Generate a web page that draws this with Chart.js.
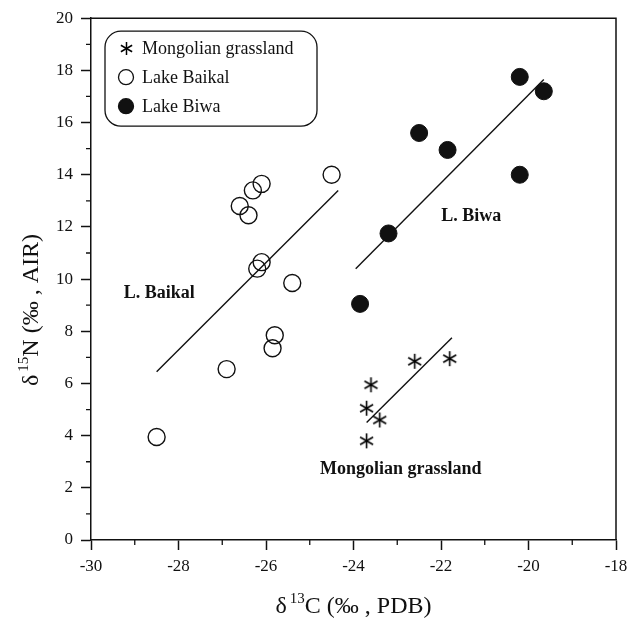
<!DOCTYPE html>
<html>
<head>
<meta charset="utf-8">
<script src="https://cdn.jsdelivr.net/npm/chart.js@4.4.1/dist/chart.umd.min.js"></script>
<style>
  html, body { margin: 0; padding: 0; background: #fff; }
  #wrap { width: 638px; height: 620px; }
</style>
</head>
<body>
<div id="wrap"><canvas id="isoChart" width="638" height="620"></canvas></div>
<script>
// valores (d13C, d15N)
const mongX = [-22.6, -21.8, -23.6, -23.7, -23.4, -23.7];
const mongY = [6.85, 6.95, 5.95, 5.05, 4.6, 3.8];

const baikalX = [-24.5, -26.1, -26.3, -26.6, -26.4, -26.1, -26.2, -25.4, -25.8, -25.85, -26.9, -28.5];
const baikalY = [14.0, 13.65, 13.4, 12.8, 12.45, 10.65, 10.4, 9.85, 7.85, 7.35, 6.55, 3.95];

const biwaX = [-20.2, -19.65, -22.5, -21.85, -20.2, -23.2, -23.85];
const biwaY = [17.75, 17.2, 15.6, 14.95, 14.0, 11.75, 9.05];

// retas de regressão (extremos)
const mongFitX = [-23.7, -21.75];
const mongFitY = [4.5, 7.75];
const baikalFitX = [-28.5, -24.35];
const baikalFitY = [6.45, 13.4];
const biwaFitX = [-23.95, -19.65];
const biwaFitY = [10.4, 17.65];

const seriesNames = ['Mongolian grassland', 'Lake Baikal', 'Lake Biwa'];
const groupLabels = ['L. Baikal', 'L. Biwa', 'Mongolian grassland'];
const groupLabelX = [-28.44, -21.31, -22.92];
const groupLabelY = [9.44, 12.4, 2.69];

const xMin = -30, xMax = -18, xStep = 2;
const yMin = 0, yMax = 20, yStep = 2;

const ink = '#111';
const serif = "'Liberation Serif', 'Times New Roman', serif";

function pts(xs, ys) {
    return xs.map((x, i) => ({ x: x, y: ys[i] }));
}

// asterisco de 6 pontas
function makeStar(r, lw) {
    const c = document.createElement('canvas');
    const s = 2 * Math.ceil(r) + 3; // tamanho ímpar -> centro no meio do pixel
    c.width = s; c.height = s;
    const g = c.getContext('2d');
    const m = s / 2;
    g.strokeStyle = '#000';
    g.lineWidth = lw;
    g.lineCap = 'butt';
    for (let k = 0; k < 3; k++) {
        const a = Math.PI / 2 + k * Math.PI / 3;
        g.beginPath();
        g.moveTo(m + r * Math.cos(a), m - r * Math.sin(a));
        g.lineTo(m - r * Math.cos(a), m + r * Math.sin(a));
        g.stroke();
    }
    return c;
}
const starBig = makeStar(7.5, 1.6);
const starSmall = makeStar(6.5, 1.5);

// moldura, ticks menores, títulos, rótulos e legenda
const extrasPlugin = {
    id: 'extras',
    afterDraw(chart) {
        const ctx = chart.ctx;
        const a = chart.chartArea;
        const xs = chart.scales.x, ys = chart.scales.y;
        ctx.save();
        ctx.strokeStyle = ink;
        ctx.lineWidth = 1.5;
        ctx.beginPath();
        ctx.moveTo(a.left, a.top);
        ctx.lineTo(a.right, a.top);
        ctx.lineTo(a.right, a.bottom);
        ctx.stroke();

        // ticks menores
        ctx.lineWidth = 1.3;
        ctx.beginPath();
        for (let v = xMin + xStep / 2; v < xMax; v += xStep) {
            const px = xs.getPixelForValue(v);
            ctx.moveTo(px, a.bottom);
            ctx.lineTo(px, a.bottom + 5);
        }
        for (let v = yMin + yStep / 2; v < yMax; v += yStep) {
            const py = ys.getPixelForValue(v);
            ctx.moveTo(a.left, py);
            ctx.lineTo(a.left - 5, py);
        }
        ctx.stroke();

        // rótulos dos grupos
        ctx.fillStyle = ink;
        ctx.font = 'bold 18px ' + serif;
        ctx.textAlign = 'center';
        ctx.textBaseline = 'middle';
        groupLabels.forEach((t, i) => {
            ctx.fillText(t, xs.getPixelForValue(groupLabelX[i]), ys.getPixelForValue(groupLabelY[i]));
        });

        // títulos dos eixos com sobrescrito
        const drawSup = (parts, cx, cy) => {
            let w = 0;
            parts.forEach(p => { ctx.font = p[1] + 'px ' + serif; w += ctx.measureText(p[0]).width + p[3]; });
            let x = cx - w / 2;
            ctx.textAlign = 'left';
            ctx.textBaseline = 'alphabetic';
            parts.forEach(p => {
                ctx.font = p[1] + 'px ' + serif;
                ctx.fillText(p[0], x, cy + p[2]);
                x += ctx.measureText(p[0]).width + p[3];
            });
        };
        drawSup([['δ', 24, 0, 3], ['13', 15, -10, 0], ['C (‰ , PDB)', 24, 0, 0]], (a.left + a.right) / 2, 613);
        ctx.save();
        ctx.translate(38, 310);
        ctx.rotate(-Math.PI / 2);
        drawSup([['δ', 24, 0, 3], ['15', 15, -10, 0], ['N (‰ , AIR)', 24, 0, 0]], 0, 0);
        ctx.restore();

        // legenda
        const bx = a.left + 14, by = a.top + 13, bw = 212, bh = 95, br = 16;
        ctx.lineWidth = 1.3;
        ctx.strokeStyle = ink;
        ctx.beginPath();
        ctx.roundRect(bx, by, bw, bh, br);
        ctx.fillStyle = '#fff';
        ctx.fill();
        ctx.stroke();
        ctx.font = '18px ' + serif;
        ctx.textAlign = 'left';
        ctx.textBaseline = 'middle';
        seriesNames.forEach((name, i) => {
            const ly = by + 17 + i * 29;
            const lx = bx + 21;
            if (i === 0) {
                ctx.drawImage(starSmall, Math.round(lx - starSmall.width / 2), Math.round(ly - starSmall.height / 2));
            } else {
                ctx.beginPath();
                ctx.arc(lx, ly, 7.5, 0, Math.PI * 2);
                ctx.fillStyle = i === 1 ? '#fff' : ink;
                ctx.fill();
                ctx.stroke();
            }
            ctx.fillStyle = ink;
            ctx.fillText(name, bx + 37, ly + 1);
        });
        ctx.restore();
    }
};

const fitStyle = {
    type: 'scatter', showLine: true, pointRadius: 0, borderColor: ink, borderWidth: 1.4, fill: false
};

new Chart(document.getElementById('isoChart'), {
    type: 'scatter',
    data: {
        datasets: [
            { label: seriesNames[0], data: pts(mongX, mongY), pointStyle: starBig, pointRadius: 8 },
            { label: seriesNames[1], data: pts(baikalX, baikalY), pointStyle: 'circle', pointRadius: 8.5,
              backgroundColor: 'rgba(255,255,255,0)', borderColor: ink, borderWidth: 1.4 },
            { label: seriesNames[2], data: pts(biwaX, biwaY), pointStyle: 'circle', pointRadius: 8.5,
              backgroundColor: ink, borderColor: ink, borderWidth: 1 },
            Object.assign({ label: 'fit1', data: pts(mongFitX, mongFitY) }, fitStyle),
            Object.assign({ label: 'fit2', data: pts(baikalFitX, baikalFitY) }, fitStyle),
            Object.assign({ label: 'fit3', data: pts(biwaFitX, biwaFitY) }, fitStyle)
        ]
    },
    options: {
        responsive: false,
        animation: false,
        layout: { padding: { top: 15, right: 22, left: 0, bottom: 0 } },
        plugins: { legend: { display: false }, tooltip: { enabled: false } },
        scales: {
            x: {
                type: 'linear', min: xMin, max: xMax,
                afterFit: s => { s.height = 80; },
                ticks: { stepSize: xStep, color: ink, padding: 6, font: { family: serif, size: 17 } },
                grid: { drawOnChartArea: false, tickLength: 10, tickColor: ink, tickWidth: 1.5 },
                border: { color: ink, width: 1.5 }
            },
            y: {
                type: 'linear', min: yMin, max: yMax,
                afterFit: s => { s.width = 91; },
                ticks: { stepSize: yStep, color: ink, padding: 8, font: { family: serif, size: 17 } },
                grid: { drawOnChartArea: false, tickLength: 10, tickColor: ink, tickWidth: 1.5 },
                border: { color: ink, width: 1.5 }
            }
        }
    },
    plugins: [extrasPlugin]
});
</script>
</body>
</html>
